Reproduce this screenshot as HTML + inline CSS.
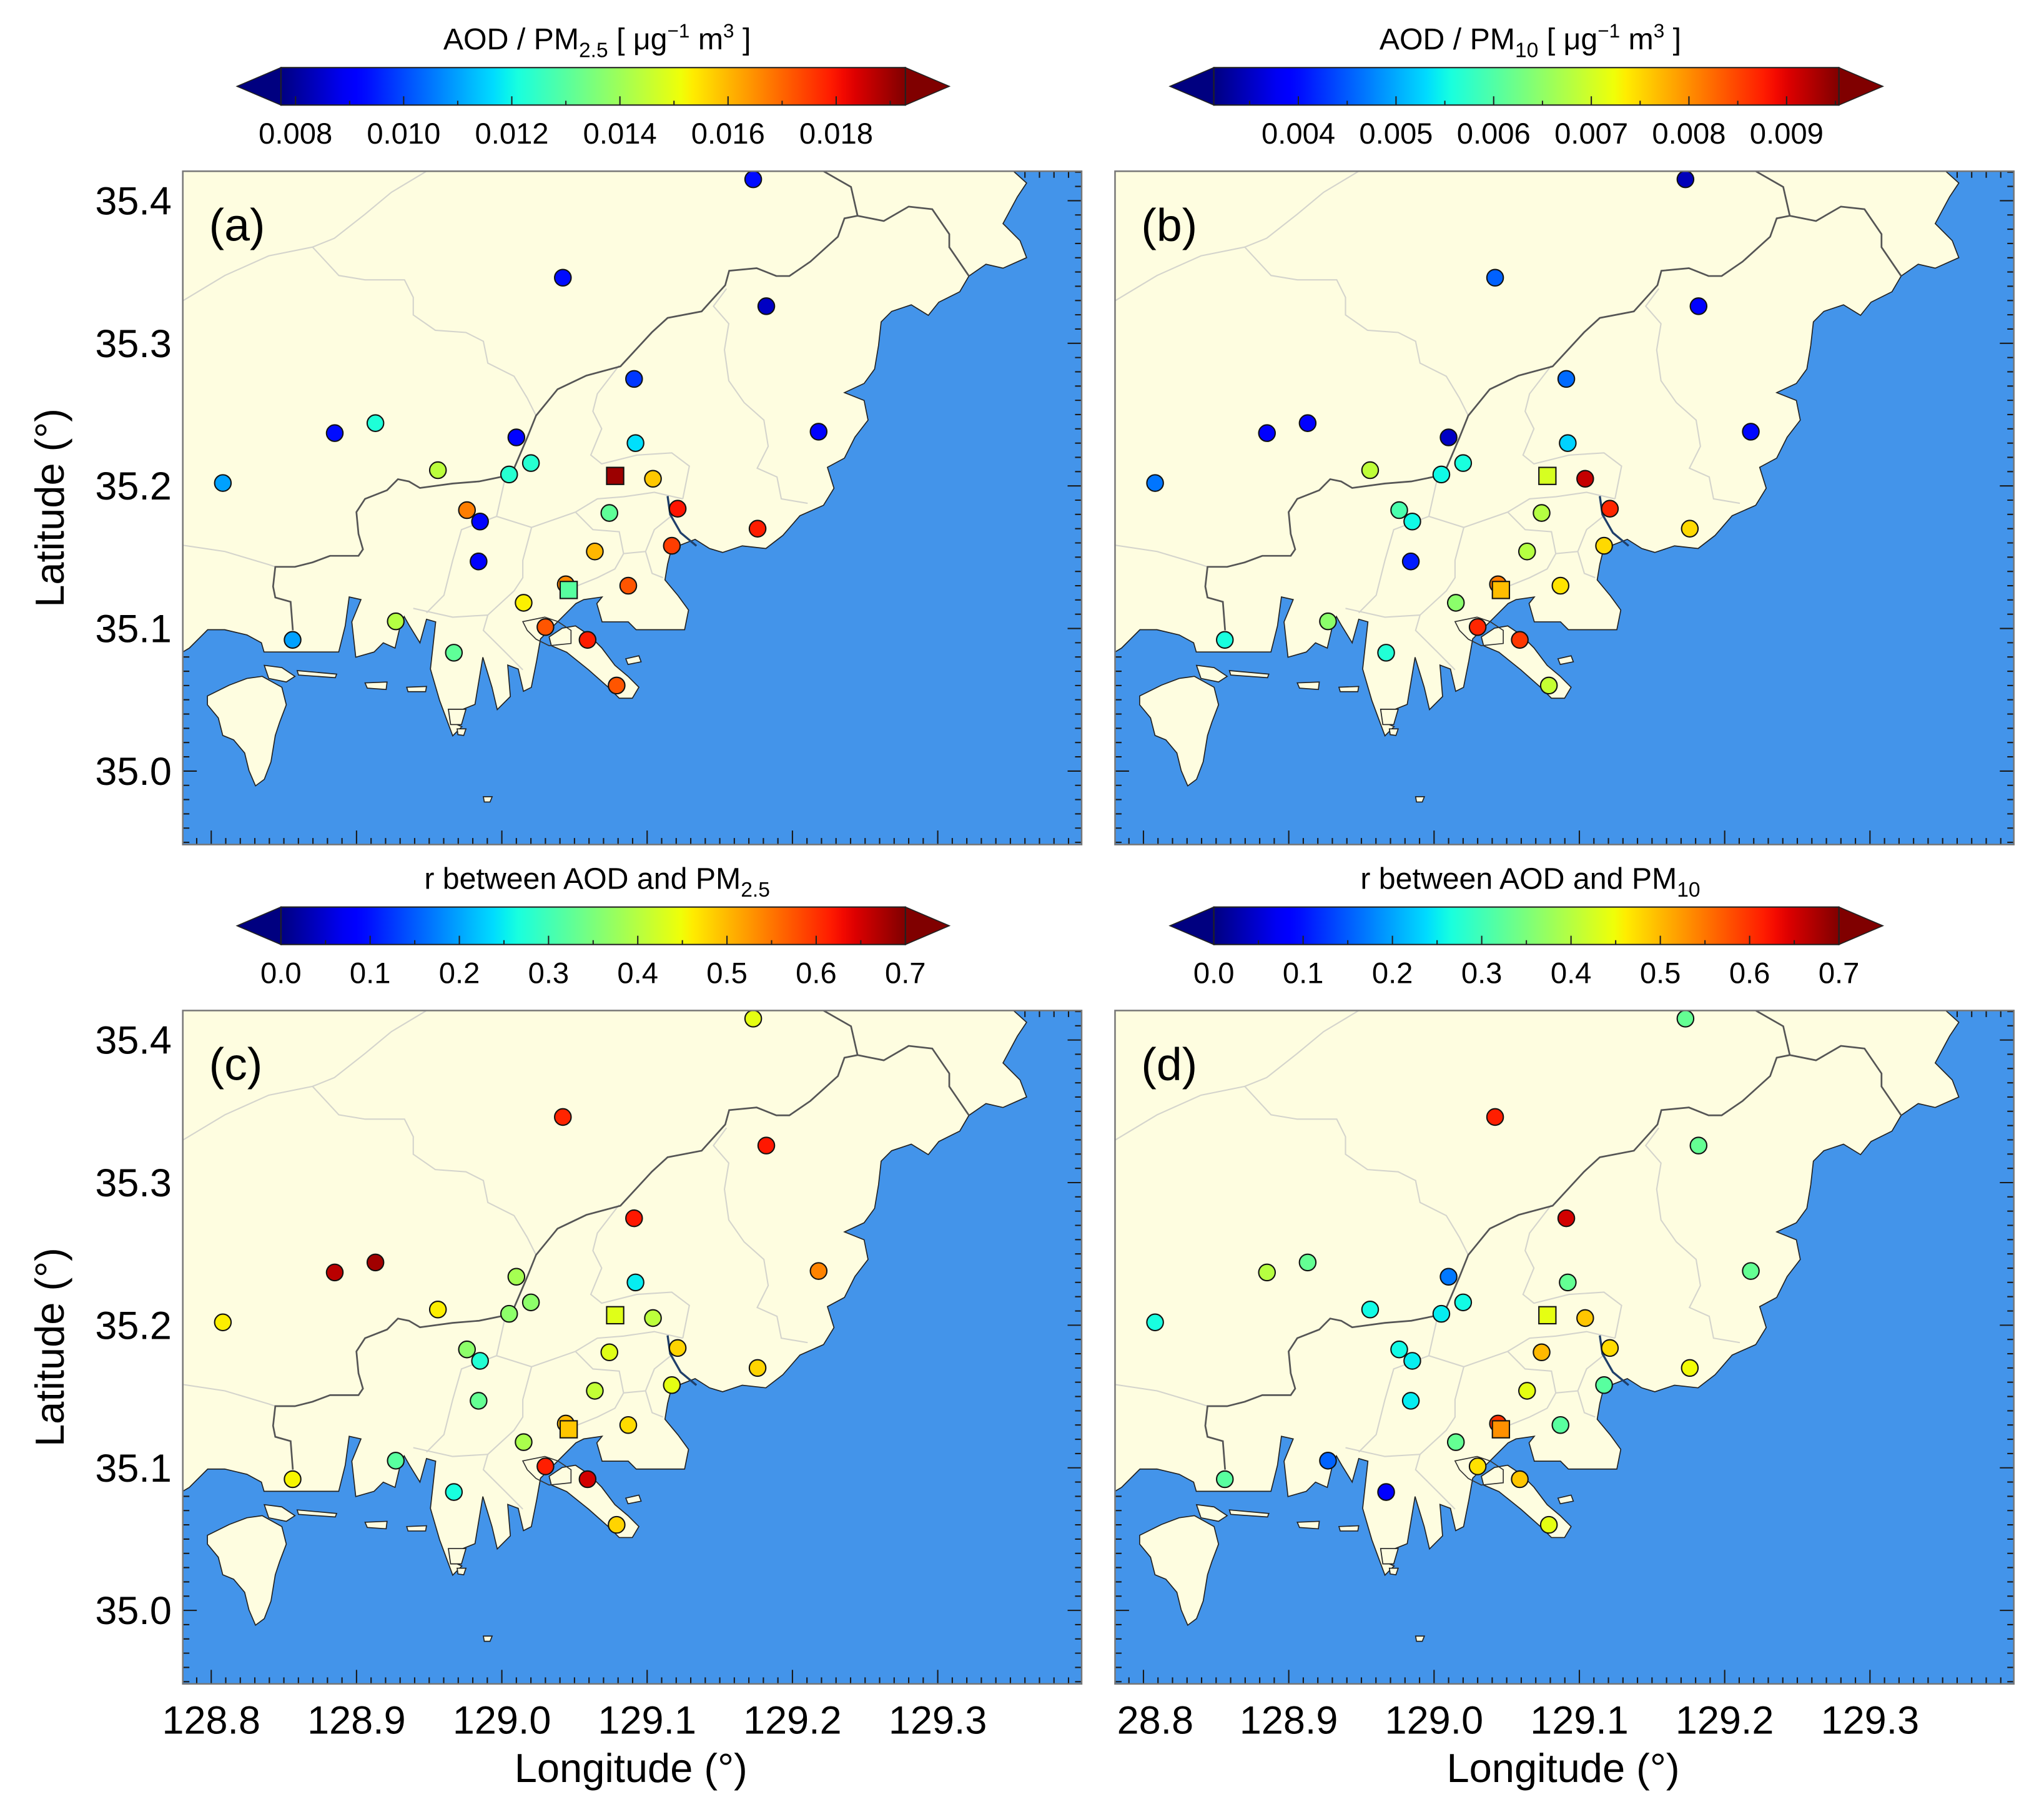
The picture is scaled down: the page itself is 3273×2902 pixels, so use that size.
<!DOCTYPE html>
<html><head><meta charset="utf-8"><style>
html,body{margin:0;padding:0;background:#fff;}
svg{display:block;font-family:"Liberation Sans",Arial,sans-serif;}
</style></head><body>
<svg id="fig" xmlns="http://www.w3.org/2000/svg" width="3273" height="2902" viewBox="0 0 1560 1383.2">
<defs id="defs"></defs>
<g id="root"></g>
</svg>
<script>
// ---- data ----
const stationLon=[129.173,129.042,129.182,129.091,128.885,128.913,129.010,129.218,129.092,128.808,128.956,129.005,129.020,129.078,129.104,128.976,128.985,129.074,129.121,129.176,129.117,129.064,128.984,129.044,129.046,129.087,129.015,128.927,128.856,129.030,129.059,128.967,129.079];
const stationLat=[35.415,35.346,35.326,35.275,35.237,35.244,35.234,35.238,35.230,35.202,35.211,35.208,35.216,35.207,35.205,35.183,35.175,35.181,35.184,35.170,35.158,35.154,35.147,35.131,35.127,35.130,35.118,35.105,35.092,35.101,35.092,35.083,35.060];
const squareStations=[13,24];
const valuesA=[0.0093,0.0093,0.0084,0.0098,0.0093,0.0122,0.0092,0.0092,0.0117,0.0110,0.0144,0.0123,0.0123,0.0190,0.0158,0.0167,0.0092,0.0131,0.0180,0.0179,0.0175,0.0160,0.0091,0.0166,0.0130,0.0172,0.0153,0.0143,0.0110,0.0172,0.0179,0.0131,0.0172];
const valuesB=[0.00345,0.00454,0.00390,0.00460,0.00390,0.00384,0.00352,0.00397,0.00525,0.00467,0.00685,0.00550,0.00557,0.00704,0.00915,0.00595,0.00550,0.00678,0.00870,0.00749,0.00749,0.00678,0.00410,0.00813,0.00768,0.00742,0.00646,0.00646,0.00557,0.00870,0.00858,0.00563,0.00691];
const valuesC=[0.44,0.61,0.62,0.62,0.665,0.68,0.385,0.54,0.25,0.46,0.46,0.365,0.365,0.435,0.405,0.365,0.275,0.435,0.48,0.48,0.44,0.41,0.33,0.50,0.49,0.475,0.39,0.32,0.455,0.615,0.65,0.265,0.48];
const valuesD=[0.33,0.615,0.33,0.65,0.40,0.33,0.17,0.33,0.33,0.265,0.26,0.25,0.26,0.44,0.49,0.26,0.25,0.50,0.475,0.45,0.32,0.44,0.25,0.60,0.53,0.32,0.33,0.155,0.32,0.47,0.49,0.085,0.44];
const lonTicks=[128.8,128.9,129.0,129.1,129.2,129.3];
const latTicks=[35.0,35.1,35.2,35.3,35.4];
const cbTicksA=[0.008,0.010,0.012,0.014,0.016,0.018];
const cbTicksB=[0.004,0.005,0.006,0.007,0.008,0.009];
const cbTicksR=[0.0,0.1,0.2,0.3,0.4,0.5,0.6,0.7];

// ---- helpers ----
const NS="http://www.w3.org/2000/svg";
const root=document.getElementById('root');
const defs=document.getElementById('defs');
function mk(tag,attrs,parent){const e=document.createElementNS(NS,tag);for(const k in attrs)e.setAttribute(k,attrs[k]);(parent||root).appendChild(e);return e;}
function interp(t,xs,ys){for(let i=1;i<xs.length;i++){if(t<=xs[i]){const f=(t-xs[i-1])/(xs[i]-xs[i-1]);return ys[i-1]+f*(ys[i]-ys[i-1]);}}return ys[ys.length-1];}
function jet(t){t=Math.max(0,Math.min(1,t));
 const r=interp(t,[0,0.35,0.66,0.89,1],[0,0,1,1,0.5]);
 const g=interp(t,[0,0.125,0.375,0.64,0.91,1],[0,0,1,1,0,0]);
 const b=interp(t,[0,0.11,0.34,0.65,1],[0.5,1,1,0,0]);
 return `rgb(${Math.round(r*255)},${Math.round(g*255)},${Math.round(b*255)})`;}

const PW=686, PH=514;
function xOf(lon){return 243.5+(lon-129)*1109;}
function yOf(lat){return 457.9-(lat-35)*1088.5;}
function z6(p){return p.map(q=>[0.3344*q[0]-1.3,0.3344*q[1]-4]);}
function pts(a){return a.map(p=>p[0].toFixed(1)+','+p[1].toFixed(1)).join(' ');}

// ---- geography (background) ----
const mainland=[[0,0],[634,0],[644,9],[637,19.5],[626,40],[639,53],[644,66],[626,74],[613,71],[600,80],[593,92],[577,100],[569,110],[556,102],[541,107],[533,115],[531,133],[528,151],[520,162],[505,169],[520,175],[523,190],[513,203],[505,219],[492,226],[497,242],[489,255],[471,263],[458,278],[445,288],[427,286],[412,291],[402,288],[391,281],[373,288],[370,300],[368,312],[378,324],[386,335],[383,350],[367,350],[346,350],[340,344],[320,344],[316,330],[320,325],[306,327],[300,330],[290,340],[283,347],[273,357],[270,374],[266,394],[260,397],[256,380],[248,377],[250,401],[240,411],[236,394],[229,371],[223,407],[213,411],[206,421],[213,424],[206,431],[196,404],[189,380],[193,344],[186,342],[181,360],[173,347],[169,340],[166,347],[162,364],[153,360],[146,367],[132,371],[129,344],[136,327],[127,325],[124,347],[119,367],[99,367],[62,367],[60,360],[49,354],[32,350],[19,350],[5,364],[0,367]];
const islandsZ6=[
 [[60,1210],[110,1185],[150,1170],[185,1165],[230,1190],[240,1230],[225,1270],[215,1300],[205,1360],[190,1400],[170,1415],[155,1380],[145,1340],[120,1310],[95,1300],[85,1260],[60,1230]],
 [[840,1075],[870,1055],[900,1050],[930,1070],[960,1100],[990,1140],[1020,1165],[1045,1190],[1030,1215],[1000,1215],[975,1190],[930,1150],[880,1110],[845,1095]],
 [[190,1140],[230,1145],[260,1165],[240,1178],[200,1170]],
 [[265,1152],[355,1160],[352,1168],[268,1162]],
 [[420,1180],[470,1178],[468,1195],[425,1192]],
 [[515,1190],[560,1188],[558,1200],[518,1200]],
 [[610,1240],[650,1240],[640,1275],[615,1275]],
 [[630,1285],[650,1285],[645,1300],[632,1298]],
 [[1015,1125],[1045,1118],[1050,1132],[1020,1138]],
 [[690,1440],[710,1440],[705,1452],[692,1452]],
 [[820,1040],[840,1035],[848,1060],[828,1062]]
];
const harborZ6=[[780,1040],[830,1030],[860,1040],[890,1060],[890,1090],[840,1095],[810,1080],[790,1060]];
const boundaryMain=[[489,0],[510,12],[515,34],[535,38],[554,27],[572,29],[585,48],[585,58],[600,80]];
const boundaryWest=[[515,34],[505,36],[500,50],[479,69],[463,80],[453,80],[438,74],[417,76],[414,87],[396,107],[370,112],[358,123],[334,149],[308,156],[286,166.5],[269.6,186.6],[262.9,203.3],[252.9,226.7],[242.8,233.4],[226.1,236.8],[206,238.4],[181,241.8],[172.6,236.8],[164.2,235.1],[155.9,243.5],[139.1,250.1],[132.5,260.2],[134.1,276.9],[137.5,288.6],[134.1,293.6],[112.4,293.6],[99,298.6],[85.6,302],[70.6,302],[68.9,317],[70.6,325.4],[82.3,328.7],[84,350.5]];
const districtZ6=[
 [[0,310],[100,250],[200,205],[300,185],[350,165],[420,110],[480,60],[560,12]],
 [[300,185],[360,250],[420,260],[510,260],[530,300],[530,340],[580,375],[650,380],[690,400],[700,450],[760,480],[790,530],[810,570]],
 [[0,865],[100,880],[200,910],[215,915]],
 [[1245,280],[1215,320],[1250,360],[1240,420],[1250,490],[1285,540],[1330,580],[1340,640],[1315,690],[1360,710],[1370,760],[1430,770]],
 [[1000,455],[950,520],[940,560],[960,600],[935,660],[960,680],[1040,660],[1120,655],[1160,685],[1145,760]],
 [[720,800],[800,825],[900,790],[950,760],[1010,755],[1080,745],[1145,760]],
 [[740,710],[720,800],[640,830],[620,900],[600,980],[560,1020]],
 [[900,790],[940,830],[1000,835],[1010,885],[1060,880],[1080,830],[1130,790]],
 [[800,825],[780,900],[780,940],[760,970],[700,1025],[690,1060],[740,1110],[780,1150]],
 [[1060,880],[1075,930],[1100,940]],
 [[530,1010],[620,1030],[700,1025]],
 [[1010,885],[990,920],[950,940],[900,960],[880,970]]
];

const panels=[
 {id:'a',x:139.5,y:130.7,vals:valuesA,vmin:0.00773,vmax:0.01928,left:true,bottom:false},
 {id:'b',x:851,y:130.7,vals:valuesB,vmin:0.003134,vmax:0.009536,left:false,bottom:false},
 {id:'c',x:139.5,y:771.4,vals:valuesC,vmin:0,vmax:0.7,left:true,bottom:true},
 {id:'d',x:851,y:771.4,vals:valuesD,vmin:0,vmax:0.7,left:false,bottom:true}
];

const cp=mk('clipPath',{id:'pclip'},defs);
mk('rect',{x:0,y:0,width:PW,height:PH},cp);

panels.forEach(P=>{
 const g=mk('g',{transform:`translate(${P.x},${P.y})`});
 
 
 const inner=mk('g',{'clip-path':'url(#pclip)'},g);
 const sea=mk('rect',{x:0,y:0,width:PW,height:PH,fill:'#4394ea'},inner);
 
 
 const tg=mk('g',{stroke:'#1a1a1a','stroke-width':1},inner);
 
 
 for(let i=0;i<=62;i++){const lon=128.78+i*0.01;const x=xOf(lon);const maj=Math.abs(lon*10-Math.round(lon*10))<1e-6;const L=maj?10.7:5;
  mk('line',{x1:x,y1:PH,x2:x,y2:PH-L},tg);mk('line',{x1:x,y1:0,x2:x,y2:L},tg);}
 for(let i=0;i<=48;i++){const lat=34.95+i*0.01;const y=yOf(lat);const maj=Math.abs(lat*10-Math.round(lat*10))<1e-6;const L=maj?10.7:5;
  mk('line',{x1:0,y1:y,x2:L,y2:y},tg);mk('line',{x1:PW,y1:y,x2:PW-L,y2:y},tg);}
 const land=mk('polygon',{points:pts(mainland),fill:'#fefde0',stroke:'#222','stroke-width':0.8},inner);
 
 
 islandsZ6.forEach(isl=>{const e=mk('polygon',{points:pts(z6(isl)),fill:'#fefde0',stroke:'#222','stroke-width':0.8},inner);
  
  });
 const hb=mk('polygon',{points:pts(z6(harborZ6)),fill:'none',stroke:'#333','stroke-width':0.8},inner);
 
 
 districtZ6.forEach(l=>{const e=mk('polyline',{points:pts(z6(l)),fill:'none',stroke:'#d4d4cc','stroke-width':1},inner);
  
  });
 [boundaryMain,boundaryWest].forEach(l=>{const e=mk('polyline',{points:pts(l),fill:'none',stroke:'#555','stroke-width':1.3},inner);
  
  });
 const river=mk('polyline',{points:pts([[370,248],[372,262],[380,276],[392,286]]),fill:'none',stroke:'#1f3f6a','stroke-width':1.6},inner);
 
 
 for(let i=0;i<stationLon.length;i++){
  const cx=xOf(stationLon[i]), cy=yOf(stationLat[i]);
  const col=jet((P.vals[i]-P.vmin)/(P.vmax-P.vmin));
  let e;
  if(squareStations.includes(i)){e=mk('rect',{x:cx-6.5,y:cy-6.5,width:13,height:13,fill:col,stroke:'#111','stroke-width':1},inner);}
  else{e=mk('circle',{cx:cx,cy:cy,r:6.3,fill:col,stroke:'#111','stroke-width':1},inner);}
  
  
 }
 const fr=mk('rect',{x:0,y:0,width:PW,height:PH,fill:'none',stroke:'#777','stroke-width':1.2},g);
 
 
 const lab=mk('text',{x:20,y:53,'font-size':35,fill:'#000'},g);lab.textContent='('+P.id+')';
 
 
 if(P.left){latTicks.forEach(v=>{const t=mk('text',{x:-8.5,y:yOf(v)+10.5,'font-size':30,'text-anchor':'end'},g);t.textContent=v.toFixed(1);
   
   });
  const yl=mk('text',{x:0,y:0,'font-size':31,'text-anchor':'middle',transform:`translate(${38.5-P.x+10},${257}) rotate(-90)`},g);yl.textContent='Latitude (°)';
  
  }
 if(P.bottom){lonTicks.forEach((v,k)=>{const t=mk('text',{x:xOf(v),y:PH+38,'font-size':30,'text-anchor':'middle'},g);
   t.textContent=(P.id==='d'&&k===0)?'28.8':v.toFixed(1);
   if(P.id==='d'&&k===0)t.setAttribute('x',xOf(v)+9);
   
   });
  const xl=mk('text',{x:342,y:PH+75,'font-size':31,'text-anchor':'middle'},g);xl.textContent='Longitude (°)';
  
  }
});

// ---- colorbars ----
const grad=mk('linearGradient',{id:'jetg',x1:0,y1:0,x2:1,y2:0},defs);
for(let i=0;i<=50;i++){mk('stop',{offset:(i/50).toFixed(3),'stop-color':jet(i/50)},grad);}
const cbars=[
 {x0:214.4,x1:691,y:51.6,vmin:0.00773,vmax:0.01928,ticks:cbTicksA,minor:0.001,dec:3,name:'colorbar-aod-pm25',title:['AOD / PM','2.5',' [ μg','−1',' m','3',' ]']},
 {x0:926.4,x1:1403.5,y:51.6,vmin:0.003134,vmax:0.009536,ticks:cbTicksB,minor:0.0005,dec:3,name:'colorbar-aod-pm10',title:['AOD / PM','10',' [ μg','−1',' m','3',' ]']},
 {x0:214.4,x1:691,y:692.4,vmin:0,vmax:0.7,ticks:cbTicksR,minor:0.05,dec:1,name:'colorbar-r-pm25',title:['r between AOD and PM','2.5']},
 {x0:926.4,x1:1403.5,y:692.4,vmin:0,vmax:0.7,ticks:cbTicksR,minor:0.05,dec:1,name:'colorbar-r-pm10',title:['r between AOD and PM','10']}
];
cbars.forEach(C=>{
 const g=mk('g',{});
 
 
 const h=28.6, ym=C.y+h/2, tw=33.5;
 const lt=mk('polygon',{points:`${C.x0},${C.y} ${C.x0-tw},${ym} ${C.x0},${C.y+h}`,fill:jet(0),stroke:'#222','stroke-width':0.8},g);
 
 
 const rt=mk('polygon',{points:`${C.x1},${C.y} ${C.x1+tw},${ym} ${C.x1},${C.y+h}`,fill:jet(1),stroke:'#222','stroke-width':0.8},g);
 
 
 const bar=mk('rect',{x:C.x0,y:C.y,width:C.x1-C.x0,height:h,fill:'url(#jetg)',stroke:'#222','stroke-width':1},g);
 
 
 const sc=v=>C.x0+(v-C.vmin)/(C.vmax-C.vmin)*(C.x1-C.x0);
 const n0=Math.ceil(C.vmin/C.minor-1e-6), n1=Math.floor(C.vmax/C.minor+1e-6);
 for(let n=n0;n<=n1;n++){const v=n*C.minor;const maj=C.ticks.some(t=>Math.abs(t-v)<C.minor/10);const x=sc(v);
  mk('line',{x1:x,y1:C.y+h,x2:x,y2:C.y+h-(maj?6.7:3.3),stroke:'#222','stroke-width':1},g);}
 C.ticks.forEach(v=>{const t=mk('text',{x:sc(v),y:C.y+58,'font-size':22.5,'text-anchor':'middle'},g);t.textContent=v.toFixed(C.dec);
  
  });
 const tt=mk('text',{x:(C.x0+C.x1)/2+3,y:C.y-14,'font-size':23,'text-anchor':'middle'},g);
 
 
 C.title.forEach((s,k)=>{const sp=mk('tspan',{},tt);sp.textContent=s;
  if(C.title.length===2){ if(k===1){sp.setAttribute('font-size','16');sp.setAttribute('dy','6');} }
  else{ if(k===1){sp.setAttribute('font-size','16');sp.setAttribute('dy','6');}
   else if(k===2){sp.setAttribute('dy','-6');}
   else if(k===3||k===5){sp.setAttribute('font-size','15');sp.setAttribute('dy','-9');}
   else if(k===4||k===6){sp.setAttribute('dy','9');} }
 });
});
</script>
</body></html>
